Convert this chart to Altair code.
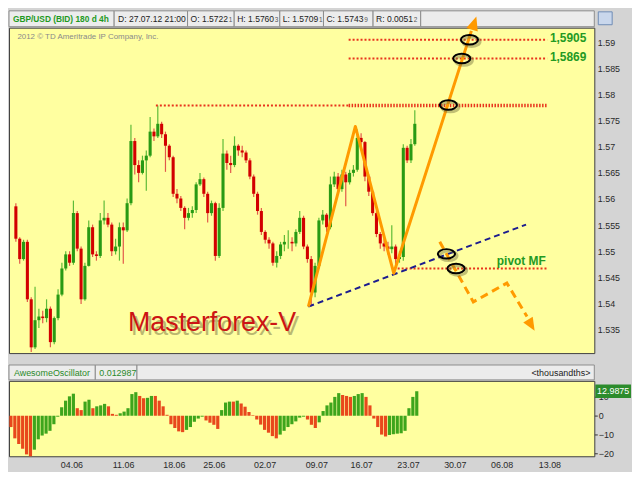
import json
import altair as alt
import pandas as pd

FONT = "Liberation Sans"
W, H_PRICE, H_OSC = 590, 328, 76

# ---------------- data ----------------
first_open = 1.5586
closes = [1.5524, 1.5485, 1.5518, 1.5408, 1.5316, 1.5368, 1.5375, 1.5372, 1.5390, 1.5326,
          1.5372, 1.5417, 1.5467, 1.5494, 1.5478, 1.5573, 1.5505, 1.5408, 1.5472, 1.5546,
          1.5494, 1.5491, 1.5559, 1.5564, 1.5551, 1.5500, 1.5509, 1.5546, 1.5540, 1.5592,
          1.5711, 1.5665, 1.5650, 1.5674, 1.5683, 1.5729, 1.5720, 1.5744, 1.5724, 1.5702,
          1.5680, 1.5610, 1.5601, 1.5583, 1.5564, 1.5573, 1.5579, 1.5628, 1.5638, 1.5610,
          1.5573, 1.5592, 1.5491, 1.5583, 1.5687, 1.5669, 1.5665, 1.5702, 1.5693, 1.5689,
          1.5674, 1.5643, 1.5610, 1.5577, 1.5537, 1.5522, 1.5515, 1.5478, 1.5491, 1.5513,
          1.5518, 1.5518, 1.5515, 1.5537, 1.5564, 1.5509, 1.5485, 1.5421, 1.5472, 1.5559,
          1.5570, 1.5546, 1.5628, 1.5643, 1.5619, 1.5647, 1.5632, 1.5650, 1.5656, 1.5717,
          1.5709, 1.5643, 1.5614, 1.5573, 1.5533, 1.5515, 1.5509, 1.5504, 1.5509, 1.5485,
          1.5489, 1.5698, 1.5674, 1.5705, 1.5744]
highs = [1.5592, 1.5527, 1.5522, 1.5522, 1.5412, 1.5432, 1.5390, 1.5386, 1.5408, 1.5394,
         1.5375, 1.5427, 1.5478, 1.5500, 1.5500, 1.5597, 1.5577, 1.5509, 1.5478, 1.5559,
         1.5551, 1.5500, 1.5573, 1.5597, 1.5573, 1.5555, 1.5524, 1.5555, 1.5555, 1.5601,
         1.5742, 1.5717, 1.5674, 1.5683, 1.5693, 1.5757, 1.5735, 1.5779, 1.5748, 1.5729,
         1.5705, 1.5683, 1.5619, 1.5606, 1.5586, 1.5583, 1.5586, 1.5632, 1.5650, 1.5641,
         1.5614, 1.5597, 1.5595, 1.5592, 1.5715, 1.5693, 1.5683, 1.5720, 1.5705, 1.5702,
         1.5693, 1.5678, 1.5647, 1.5614, 1.5583, 1.5540, 1.5527, 1.5518, 1.5500, 1.5518,
         1.5531, 1.5540, 1.5527, 1.5542, 1.5577, 1.5568, 1.5513, 1.5491, 1.5478, 1.5564,
         1.5579, 1.5573, 1.5643, 1.5652, 1.5650, 1.5656, 1.5652, 1.5656, 1.5665, 1.5733,
         1.5726, 1.5711, 1.5647, 1.5617, 1.5577, 1.5537, 1.5524, 1.5518, 1.5550, 1.5513,
         1.5500, 1.5705, 1.5702, 1.5715, 1.5770]
lows = [1.5518, 1.5476, 1.5482, 1.5403, 1.5307, 1.5313, 1.5353, 1.5362, 1.5364, 1.5316,
        1.5322, 1.5368, 1.5414, 1.5463, 1.5472, 1.5474, 1.5500, 1.5399, 1.5405, 1.5471,
        1.5489, 1.5482, 1.5487, 1.5551, 1.5546, 1.5491, 1.5494, 1.5482, 1.5476, 1.5537,
        1.5588, 1.5647, 1.5632, 1.5647, 1.5616, 1.5680, 1.5711, 1.5717, 1.5717, 1.5652,
        1.5674, 1.5604, 1.5592, 1.5577, 1.5542, 1.5559, 1.5564, 1.5573, 1.5625, 1.5604,
        1.5555, 1.5568, 1.5482, 1.5487, 1.5577, 1.5656, 1.5650, 1.5661, 1.5683, 1.5680,
        1.5669, 1.5638, 1.5604, 1.5570, 1.5531, 1.5515, 1.5505, 1.5472, 1.5469, 1.5485,
        1.5500, 1.5505, 1.5500, 1.5509, 1.5533, 1.5504, 1.5478, 1.5394, 1.5412, 1.5467,
        1.5551, 1.5537, 1.5542, 1.5623, 1.5610, 1.5614, 1.5586, 1.5628, 1.5643, 1.5652,
        1.5702, 1.5634, 1.5606, 1.5568, 1.5527, 1.5505, 1.5500, 1.5494, 1.5496, 1.5472,
        1.5478, 1.5482, 1.5669, 1.5669, 1.5702]
ao_values = [-6, -12, -15, -17.5, -20.5, -21.5, -18, -12.5, -10.5, -9.5,
             -8, -4.5, -0.5, 4.5, 8, 10.3, 11.7, 4, 3, 7.5,
             8.5, 4, 5, 5.5, 6.3, 5, 1, 0.5, 1.3, 2.2,
             4, 11.5, 12.5, 10.5, 9.3, 9.5, 10.5, 10.5, 8, 5,
             0.5, -4.5, -6.5, -8.3, -8.7, -7.5, -6, -3.2, -1.5, -0.5,
             -2.5, -3.7, -4.8, -7, 3, 7, 7.5, 7.5, 8, 6.5,
             4.8, 2, 0.3, -2, -4.7, -7.5, -9, -10.8, -12, -10,
             -8, -6, -4.5, -3, -1, -0.5, -2, -4.8, -6.5, -3.5,
             2.5, 5.5, 7, 10, 12, 11, 10.5, 10, 10.5, 11.5,
             12, 10, 5.5, -1.5, -6, -10, -11, -10.2, -9.8, -9.5,
             -9.3, -8, 4, 10, 13]
ao_last = 12.9875

week_ticks = [16, 29.25, 42.25, 52.5, 65.5, 78.75, 90.25, 102.25, 114.25, 126.25, 138.5]
week_labels = ["04.06", "11.06", "18.06", "25.06", "02.07", "09.07", "16.07", "23.07",
               "30.07", "06.08", "13.08"]
price_ticks = [1.535, 1.54, 1.545, 1.55, 1.555, 1.56, 1.565, 1.57, 1.575, 1.58, 1.585, 1.59]
osc_ticks = [-20, -10, 0, 10]

# annotations (bar index, price)
zig_u = [76.75, 89.0, 99.0, 119.25]
zig_p = [1.5394, 1.5739, 1.5458, 1.5922]
up_head_u, up_head_p = [119.9], [1.5935]
scen_u = [111.0, 119.75, 128.5, 133.75]
scen_p = [1.5518, 1.5403, 1.5439, 1.5375]
down_head_u, down_head_p = [134.75], [1.5360]
trend_u = [76.75, 133.5]
trend_p = [1.5394, 1.5551]
level_seg = ["res_l", "res_l", "t1", "t1", "t2", "t2", "pivot", "pivot"]
level_u = [37.0, 87.25, 87.25, 139.0, 87.25, 139.0, 99.0, 139.0]
level_p = [1.5779, 1.5779, 1.5905, 1.5905, 1.5869, 1.5869, 1.5467, 1.5467]
thick_u = [87.25, 139.0]
thick_p = [1.5779, 1.5779]
ell_u = [118.75, 116.75, 113.25, 112.75, 115.25]
ell_p = [1.5905, 1.5869, 1.5780, 1.5495, 1.5467]
lab_text = ["1,5905", "1,5869"]
lab_u = [149.2, 149.2]
lab_p = [1.5908, 1.5871]
pivot_text, pivot_u, pivot_p = ["pivot MF"], [132.25], [1.5482]
brand_text, brand_u, brand_p = ["Masterforex-V"], [29.75], [1.5362]
copy_text, copy_u, copy_p = ["2012 \u00a9 TD Ameritrade IP Company, Inc."], [0.9], [1.5911]

# ---------------- tables ----------------
n = len(closes)
idx = [k + 0.5 for k in range(n)]
opens = [first_open] + closes[:-1]
candles = pd.DataFrame({"u": idx, "open": opens, "high": highs, "low": lows, "close": closes})
up = candles["close"] >= candles["open"]
candles["body_col"] = ["#289A14" if v else "#D20000" for v in up]
candles["wick_col"] = ["#5EBB38" if v else "#E2584A" for v in up]

prev = [ao_values[0] + 1] + ao_values[:-1]
ao_df = pd.DataFrame({"u": idx, "ao": ao_values, "zero": [0.0] * n,
                      "col": ["#3EA51C" if a > p else "#E8481C" for a, p in zip(ao_values, prev)]})

xs = alt.Scale(domain=[0, 150], nice=False, zero=False)
ys = alt.Scale(domain=[1.5305, 1.5928], nice=False, zero=False)
ys2 = alt.Scale(domain=[-21.5, 18.5], nice=False, zero=False)

yaxis = alt.Axis(orient="right", values=price_ticks, format=".3~f", title=None, ticks=False,
                 domain=False, grid=False, labelFontSize=9, labelColor="#2a2a2a",
                 labelFont=FONT, labelPadding=3)
X = alt.X("u:Q", scale=xs, axis=None)


def Y(f):
    return alt.Y(f, scale=ys, axis=yaxis)


one = pd.DataFrame({"k": [0]})


def box(x0, x1, y0, y1, fill="#ECECEC", stroke="#8C8C8C"):
    return alt.Chart(one).mark_rect(fill=fill, stroke=stroke, strokeWidth=1).encode(
        x=alt.value(x0), x2=alt.value(x1), y=alt.value(y0), y2=alt.value(y1))


def label(x, y, s, size=9, color="#222222", bold=False, align="left"):
    return alt.Chart(one).mark_text(text=s, align=align, baseline="middle", fontSize=size,
                                    color=color, font=FONT,
                                    fontWeight="bold" if bold else "normal").encode(
        x=alt.value(x), y=alt.value(y))


def seg_df(us, ps, seg=None):
    d = pd.DataFrame({"u": us, "p": ps, "o": list(range(len(us)))})
    d["seg"] = seg if seg is not None else "a"
    return d


ELLIPSE = "M-1,0A1,0.55,0,1,0,1,0A1,0.55,0,1,0,-1,0Z"
HEAD = "M0,-1L0.75,0.75L-0.75,0.75Z"
BADGE = "M-1,-0.38L1,-0.38L1,0.38L-1,0.38Z"

# ---------------- price panel ----------------
hdr = [box(0, 106, -17, -1), box(106, 180, -17, -1), box(180, 227, -17, -1),
       box(227, 273, -17, -1), box(273, 317, -17, -1), box(317, 367, -17, -1),
       box(367, 415, -17, -1), box(415, 590, -17, -1),
       box(594, 608, -16, -3, fill="#C9D7EC", stroke="#6E8BB5"),
       label(4, -9, "GBP/USD (BID) 180 d 4h", size=8.4, color="#1E9A1E", bold=True),
       label(110, -9, "D: 27.07.12 21:00", size=8.6)]
for x0, main, small, w in [(183, "O: 1.5722", "1", 38), (230, "H: 1.5760", "3", 37.5),
                           (276, "L: 1.5709", "1", 36), (320, "C: 1.5743", "9", 37.5),
                           (370, "R: 0.0051", "2", 37.5)]:
    hdr.append(label(x0, -9, main, size=8.6))
    hdr.append(label(x0 + w + 0.5, -8, small, size=6.5, color="#555555"))

wicks = alt.Chart(candles).mark_rule(strokeWidth=1.2).encode(
    x=X, y=Y("low:Q"), y2="high:Q", color=alt.Color("wick_col:N", scale=None))
bodies = alt.Chart(candles).mark_bar(size=3.1).encode(
    x=X, y=Y("open:Q"), y2="close:Q", color=alt.Color("body_col:N", scale=None))

levels = alt.Chart(seg_df(level_u, level_p, level_seg)).mark_line(
    color="#E8341C", strokeWidth=2, strokeDash=[2, 2]).encode(
    x=X, y=Y("p:Q"), detail="seg:N", order="o:O")
thick = alt.Chart(seg_df(thick_u, thick_p)).mark_line(
    color="#E8341C", strokeWidth=3.5, strokeDash=[1.5, 1.5]).encode(x=X, y=Y("p:Q"), order="o:O")
trend = alt.Chart(seg_df(trend_u, trend_p)).mark_line(
    color="#1C1C8E", strokeWidth=2, strokeDash=[6, 4]).encode(x=X, y=Y("p:Q"), order="o:O")
zig = alt.Chart(seg_df(zig_u, zig_p)).mark_line(
    color="#FF9A00", strokeWidth=3, strokeJoin="round").encode(x=X, y=Y("p:Q"), order="o:O")
scen = alt.Chart(seg_df(scen_u, scen_p)).mark_line(
    color="#FF9A00", strokeWidth=3, strokeDash=[8, 5]).encode(x=X, y=Y("p:Q"), order="o:O")
up_head = alt.Chart(pd.DataFrame({"u": up_head_u, "p": up_head_p})).mark_point(
    shape=HEAD, size=260, filled=True, color="#FF9A00", opacity=1, angle=18).encode(x=X, y=Y("p:Q"))
down_head = alt.Chart(pd.DataFrame({"u": down_head_u, "p": down_head_p})).mark_point(
    shape=HEAD, size=220, filled=True, color="#FF9A00", opacity=1, angle=149).encode(x=X, y=Y("p:Q"))
ell_df = pd.DataFrame({"u": ell_u, "p": ell_p})
ell_shadow = alt.Chart(ell_df).mark_point(
    shape=ELLIPSE, size=300, filled=False, color="#7A7640", opacity=0.45, strokeWidth=3,
    xOffset=2, yOffset=2).encode(x=X, y=Y("p:Q"))
ells = alt.Chart(ell_df).mark_point(
    shape=ELLIPSE, size=300, filled=False, color="#000000", opacity=1, strokeWidth=2).encode(
    x=X, y=Y("p:Q"))
labs = alt.Chart(pd.DataFrame({"u": lab_u, "p": lab_p, "t": lab_text})).mark_text(
    align="right", baseline="middle", fontSize=12, fontWeight="bold", color="#239A23", font=FONT
).encode(x=X, y=Y("p:Q"), text="t:N")
pivot = alt.Chart(pd.DataFrame({"u": pivot_u, "p": pivot_p, "t": pivot_text})).mark_text(
    align="center", baseline="middle", fontSize=12, fontWeight="bold", color="#239A23", font=FONT
).encode(x=X, y=Y("p:Q"), text="t:N")
brand_df = pd.DataFrame({"u": brand_u, "p": brand_p, "t": brand_text})
brand_sh = alt.Chart(brand_df).mark_text(
    align="left", baseline="middle", fontSize=27, color="#55502A", opacity=0.4, font=FONT,
    dx=3, dy=4).encode(x=X, y=Y("p:Q"), text="t:N")
brand = alt.Chart(brand_df).mark_text(
    align="left", baseline="middle", fontSize=27, color="#CC1414", font=FONT).encode(
    x=X, y=Y("p:Q"), text="t:N")
copy = alt.Chart(pd.DataFrame({"u": copy_u, "p": copy_p, "t": copy_text})).mark_text(
    align="left", baseline="middle", fontSize=8, color="#8A8A8A", font=FONT).encode(
    x=X, y=Y("p:Q"), text="t:N")

price = alt.layer(*hdr, wicks, bodies, levels, thick, trend, zig, scen, up_head, down_head,
                  ell_shadow, ells, labs, pivot, brand_sh, brand, copy).properties(
    width=W, height=H_PRICE)

# ---------------- oscillator panel ----------------
label_expr = f"{json.dumps(week_labels)}[indexof({json.dumps(week_ticks)}, datum.value)]"
oxaxis = alt.Axis(orient="bottom", values=week_ticks, labelExpr=label_expr, title=None,
                  ticks=False, domain=False, grid=False, labelFontSize=9, labelColor="#2a2a2a",
                  labelFont=FONT, labelPadding=4)
oyaxis = alt.Axis(orient="right", values=osc_ticks, format="d", title=None, ticks=True,
                  tickSize=3, tickColor="#333333", domain=False, grid=False, labelFontSize=9,
                  labelColor="#2a2a2a", labelFont=FONT, labelPadding=1)
X2 = alt.X("u:Q", scale=xs, axis=oxaxis)

ohdr = [box(0, 87, -16, -1), box(87, 129, -16, -1), box(129, 590, -16, -1),
        label(5, -8, "AwesomeOscillator", color="#2A8A2A"),
        label(91, -8, "0.012987", color="#2A8A2A"),
        label(586, -8, "<thousandths>", align="right")]
ao_rules = alt.Chart(ao_df).mark_rule(strokeWidth=3.2).encode(
    x=X2, y=alt.Y("ao:Q", scale=ys2, axis=oyaxis), y2="zero:Q",
    color=alt.Color("col:N", scale=None))
badge_df = pd.DataFrame({"v": [ao_last], "t": [str(ao_last)]})
badge = alt.Chart(badge_df).mark_point(
    shape=BADGE, size=1296, filled=True, color="#2C8C2C", opacity=1).encode(
    x=alt.value(609), y=alt.Y("v:Q", scale=ys2, axis=oyaxis))
badge_t = alt.Chart(badge_df).mark_text(
    align="center", baseline="middle", fontSize=9, color="white", font=FONT).encode(
    x=alt.value(609), y=alt.Y("v:Q", scale=ys2, axis=oyaxis), text="t:N")

osc = alt.layer(*ohdr, ao_rules, badge, badge_t).properties(width=W, height=H_OSC)

chart = alt.vconcat(price, osc, spacing=10).properties(
    padding=0, background="#D4D4D4"
).configure_view(fill="#FFFFA0", stroke="#404040", strokeWidth=1)

chart.save("out.html", embed_options={"renderer": "svg", "actions": False})
